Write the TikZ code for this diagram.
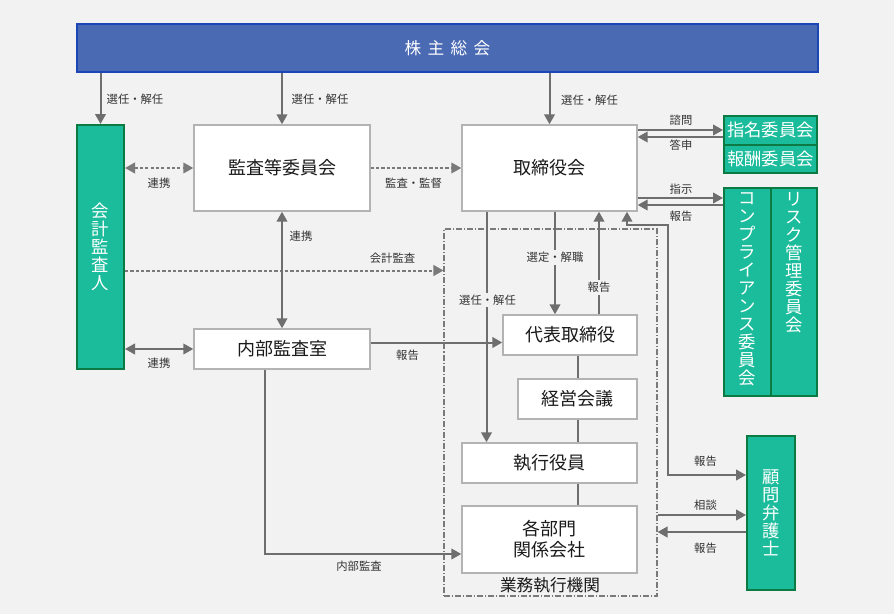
\documentclass[tikz,border=0pt]{standalone}
\usepackage{fontspec}
\setmainfont{Noto Sans CJK JP}
\usetikzlibrary{arrows.meta}
\definecolor{bgc}{HTML}{F2F2F2}
\definecolor{shfill}{HTML}{4A6AB3}
\definecolor{shline}{HTML}{1C46B5}
\definecolor{tealbox}{HTML}{1BBC9B}
\definecolor{gline}{HTML}{0D7A44}
\definecolor{boxline}{HTML}{B3B3B3}
\definecolor{arrcol}{HTML}{6E6E6E}
\definecolor{dotcol}{HTML}{7A7A7A}
\definecolor{txt}{HTML}{1A1A1A}
\definecolor{lbl}{HTML}{333333}
\begin{document}
\begin{tikzpicture}[x=0.75pt,y=-0.75pt,
  wbox/.style={draw=boxline, line width=1.1pt, fill=white, inner sep=0pt, text=txt,
    font=\fontsize{13.5pt}{15.75pt}\selectfont, align=center},
  gbox/.style={draw=gline, line width=1.5pt, fill=tealbox, inner sep=0pt, text=white,
    font=\fontsize{13pt}{13.5pt}\selectfont, align=center},
  vtxt/.style={inner sep=0pt, text=white, font=\fontsize{13pt}{13.5pt}\selectfont, align=center},
  lab/.style={font=\fontsize{8.5pt}{10pt}\selectfont, text=lbl, inner sep=1pt},
  onl/.style={lab, fill=bgc, inner sep=1.5pt},
  arr/.style={draw=arrcol, line width=1.5pt, -{Triangle[length=7.5pt,width=8pt]}},
  darr/.style={draw=arrcol, line width=1.5pt, {Triangle[length=7.5pt,width=8pt]}-{Triangle[length=7.5pt,width=8pt]}},
  ln/.style={draw=arrcol, line width=1.5pt},
  dotl/.style={draw=dotcol, line width=1.5pt, dash pattern=on 2.4pt off 1.6pt}
]
% background
\fill[bgc] (0,0) rectangle (894,614);
\useasboundingbox (0,0) rectangle (894,614);

% helper coordinates
\coordinate (yCA) at (0,270.5);
\coordinate (yIA) at (0,342.5);
\coordinate (xIA) at (265,0);
\coordinate (yDep) at (0,554);
\coordinate (x486) at (486.5,0);
\coordinate (x555) at (555,0);
\coordinate (x599) at (599,0);
\coordinate (y130) at (0,130);
\coordinate (y137) at (0,137);
\coordinate (y198) at (0,198);
\coordinate (y205) at (0,205);
\coordinate (x627) at (627,0);
\coordinate (lawc) at (668,225);
\coordinate (y475) at (0,475);
\coordinate (y515) at (0,515);
\coordinate (y532) at (0,532);

% business execution frame
\node[draw=dotcol, line width=0.8pt, dash pattern=on 4.5pt off 1.5pt on 0.8pt off 1.5pt,
  minimum width=159.75pt, minimum height=275.25pt, inner sep=0pt] (exo) at (550.5,412.5) {};
\node[font=\fontsize{12.5pt}{14pt}\selectfont, text=txt, inner sep=0pt] (exo-t) at (550,585) {業務執行機関};

% boxes
\node[draw=shline, line width=1.5pt, fill=shfill, minimum width=555.75pt, minimum height=36pt,
  inner sep=0pt, text=white, font=\fontsize{12.5pt}{13pt}\selectfont] (sh) at (447.5,48)
  {株\hspace{4.75pt}主\hspace{4.75pt}総\hspace{4.75pt}会};
\node[gbox, minimum width=35.25pt, minimum height=183pt] (ca) at (100.5,247) {会\\計\\監\\査\\人};
\node[wbox, minimum width=132pt, minimum height=64.5pt] (aud) at (282,168) {監査等委員会};
\node[wbox, minimum width=131.25pt, minimum height=64.5pt] (bod) at (549.5,168) {取締役会};
\node[wbox, minimum width=132pt, minimum height=30pt] (ia) at (282,349) {内部監査室};
\node[wbox, minimum width=100.5pt, minimum height=30pt] (rep) at (570,335) {代表取締役};
\node[wbox, minimum width=89.25pt, minimum height=30pt] (mgmt) at (577.5,399) {経営会議};
\node[wbox, minimum width=131.25pt, minimum height=30pt] (exec) at (549.5,463) {執行役員};
\node[wbox, minimum width=131.25pt, minimum height=50.25pt] (dept) at (549.5,539.5) {各部門\\関係会社};
\node[gbox, minimum width=69.75pt, minimum height=21.375pt] (nom) at (770.5,130.25) {指名委員会};
\node[gbox, minimum width=69.75pt, minimum height=21.375pt] (rem) at (770.5,158.75) {報酬委員会};
\node[gbox, minimum width=35.25pt, minimum height=156pt] (comp) at (747.5,292) {};
\node[gbox, minimum width=34.5pt, minimum height=156pt] (risk) at (794,292) {};
\node[vtxt, anchor=north] (comp-t) at (747.5,192.5) {コ\\ン\\プ\\ラ\\イ\\ア\\ン\\ス\\委\\員\\会};
\node[vtxt, anchor=north] (risk-t) at (794,192.5) {リ\\ス\\ク\\管\\理\\委\\員\\会};
\node[gbox, minimum width=36pt, minimum height=115.5pt] (law) at (771,513) {顧\\問\\弁\\護\\士};

% connectors
\draw[arr] (sh.south -| ca.north) -- (ca.north);
\draw[arr] (sh.south -| aud.north) -- (aud.north);
\draw[arr] (sh.south -| bod.north) -- (bod.north);
\draw[dotl, {Triangle[length=7.5pt,width=8pt]}-{Triangle[length=7.5pt,width=8pt]}] (ca.east |- aud.west) -- (aud.west);
\draw[dotl, -{Triangle[length=7.5pt,width=8pt]}] (aud.east) -- (bod.west);
\draw[dotl, -{Triangle[length=7.5pt,width=8pt]}] (ca.east |- yCA) -- (exo.west |- yCA);
\draw[darr] (aud.south) -- (ia.north);
\draw[darr] (ca.east |- ia.west) -- (ia.west);
\draw[arr] (ia.east |- yIA) -- (rep.west |- yIA);
\draw[arr] (ia.south -| xIA) |- (dept.west |- yDep);
\draw[arr] (bod.south -| x486) -- (exec.north -| x486);
\draw[arr] (bod.south -| x555) -- (rep.north -| x555);
\draw[arr] (rep.north -| x599) -- (bod.south -| x599);
\draw[ln] (rep.south -| mgmt.north) -- (mgmt.north);
\draw[ln] (mgmt.south) -- (exec.north -| mgmt.south);
\draw[ln] (exec.south -| mgmt.south) -- (dept.north -| mgmt.south);
\draw[arr] (bod.east |- y130) -- (nom.west |- y130);
\draw[arr] (nom.west |- y137) -- (bod.east |- y137);
\draw[arr] (bod.east |- y198) -- (comp.west |- y198);
\draw[arr] (comp.west |- y205) -- (bod.east |- y205);
\draw[darr] (law.west |- y475) -| (lawc) -| (bod.south -| x627);
\draw[arr] (exo.east |- y515) -- (law.west |- y515);
\draw[arr] (law.west |- y532) -- (exo.east |- y532);

% labels
\node[lab] (l1) at (135,99) {選任・解任};
\node[lab] (l2) at (320,99) {選任・解任};
\node[lab] (l3) at (589.5,100) {選任・解任};
\node[lab] (l4) at (159,183) {連携};
\node[lab] (l5) at (413.5,183) {監査・監督};
\node[lab] (l6) at (301,236) {連携};
\node[lab] (l7) at (392.5,258) {会計監査};
\node[lab] (l8) at (159,363) {連携};
\node[lab] (l9) at (407.5,355) {報告};
\node[lab] (l10) at (359,566) {内部監査};
\node[lab] (l11) at (681,120.5) {諮問};
\node[lab] (l12) at (681,145) {答申};
\node[lab] (l13) at (681,189) {指示};
\node[lab] (l14) at (681,216) {報告};
\node[onl] (l15) at (555,257.5) {選定・解職};
\node[onl] (l16) at (599,287.5) {報告};
\node[onl] (l17) at (487.5,300) {選任・解任};
\node[lab] (l18) at (705.5,461) {報告};
\node[lab] (l19) at (705.5,505) {相談};
\node[lab] (l20) at (705.5,548) {報告};
\end{tikzpicture}
\end{document}
